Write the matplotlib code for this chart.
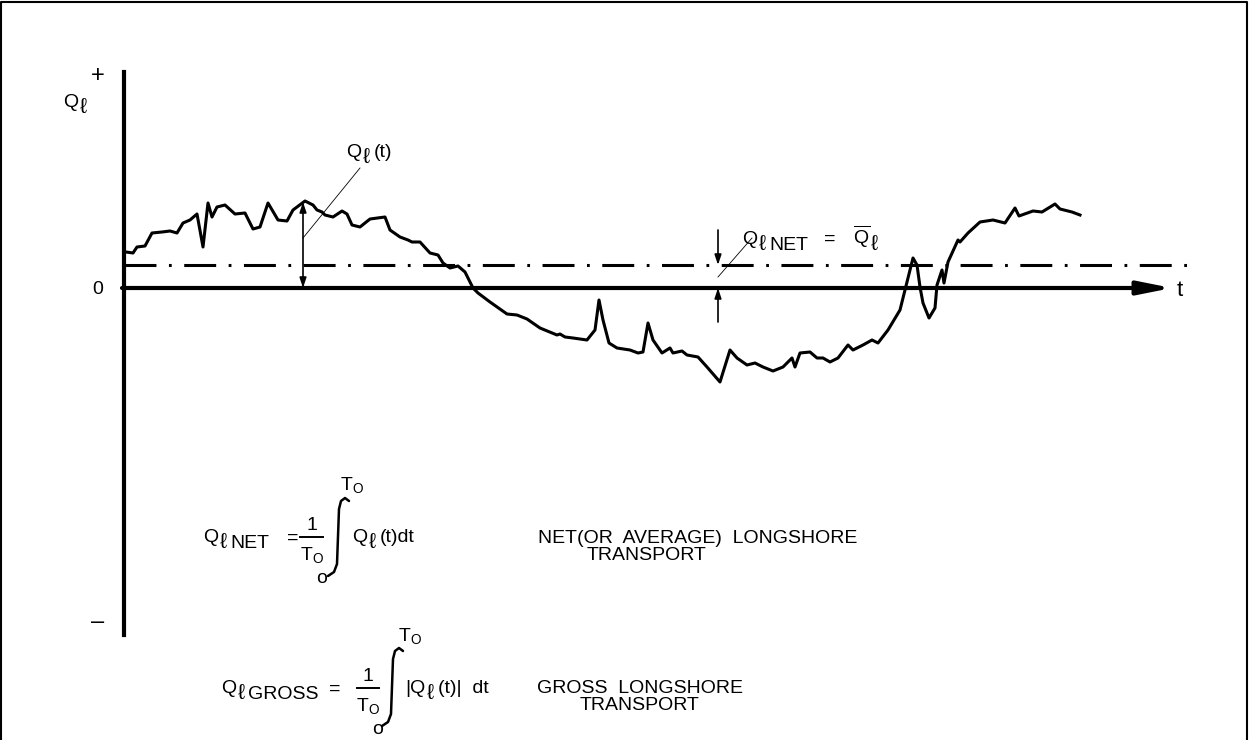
import matplotlib
matplotlib.use("Agg")
import matplotlib.pyplot as plt

# longshore transport record Q_l(t) (t in drawing units, Q up from the zero line)
t_vals = [126, 133, 137, 145, 152, 162, 170, 177, 183, 190, 197, 203, 208, 212, 217, 225, 235, 245,
          253, 260, 268, 278, 287, 293, 305, 313, 317, 322, 325, 333, 342, 347, 352, 360, 370, 385,
          390, 400, 408, 412, 420, 430, 438, 443, 450, 458, 465, 473, 478, 490, 507, 517, 527, 540,
          557, 560, 565, 573, 587, 595, 599, 603, 609, 617, 630, 638, 643, 648, 653, 662, 670, 673,
          682, 687, 698, 707, 720, 730, 737, 747, 755, 763, 773, 783, 792, 795, 800, 810, 817, 823,
          830, 838, 848, 853, 863, 872, 878, 888, 900, 905, 913, 917, 920, 923, 929, 935, 937, 942,
          944, 948, 958, 960, 968, 980, 993, 1005, 1015, 1019, 1033, 1042, 1055, 1060, 1072, 1080]
q_vals = [36, 35, 41, 42, 55, 56, 57, 55, 65, 68, 74, 41, 85, 71, 81, 83, 74, 75,
          59, 61, 85, 68, 67, 78, 87, 83, 78, 76, 73, 71, 77, 74, 63, 61, 69, 71,
          58, 51, 48, 46, 46, 35, 33, 25, 20, 22, 16, 0, -5, -14, -26, -27, -31, -40,
          -47, -46, -49, -50, -52, -42, -12, -32, -55, -60, -62, -65, -64, -35, -52, -65, -60, -65,
          -63, -67, -69, -79, -94, -62, -70, -77, -75, -79, -83, -79, -70, -79, -65, -64, -70, -70,
          -74, -70, -57, -62, -57, -52, -55, -42, -22, -2, 30, 23, 1, -15, -30, -20, 3, 18,
          5, 26, 48, 46, 55, 66, 68, 65, 80, 72, 77, 76, 84, 79, 76, 73]

q_net = 23          # level of the dash-dot mean line
t_end = 1172        # tip of the t axis arrow
q_top, q_bot = 216, -347

# thin drafted integral sign (relative shape, drawing units)
int_dx = [11, 7, 3, 1, -1, -4, -10]
int_dy = [37, 40, 37, 29, -26, -34, -38]

W, H = 1249, 740
fig = plt.figure(figsize=(W / 100, H / 100), dpi=100)
ax = fig.add_axes([0, 0, 1, 1])
ax.set_xlim(0, W)
ax.set_ylim(288 - H, 288)
ax.axis("off")

plt.rcParams["lines.scale_dashes"] = False
fam = ["Liberation Sans", "DejaVu Sans"]
plt.rcParams["mathtext.fontset"] = "custom"
plt.rcParams["mathtext.rm"] = "Liberation Sans"
fs = 14


def txt(x, y, s, **kw):
    kw.setdefault("ha", "left")
    kw.setdefault("va", "baseline")
    ax.text(x, y, s, fontsize=kw.pop("size", fs), family=fam, **kw)


def integral(x0, y0):
    ax.plot([x0 + d for d in int_dx], [y0 + d for d in int_dy], color="k", lw=1.8,
            solid_capstyle="round", solid_joinstyle="round")


# frame
ax.plot([1.5, 1.5, W - 1.5, W - 1.5], [288 - H, 286.5, 286.5, 288 - H], color="k", lw=1.5,
        solid_capstyle="butt")

# axes
ax.plot([124, 124], [q_bot, q_top], color="k", lw=3)
ax.annotate("", xy=(t_end, 0), xytext=(122, 0),
            arrowprops=dict(arrowstyle="-|>,head_length=1.0,head_width=0.2", lw=3, color="k",
                            mutation_scale=20, shrinkA=0, shrinkB=0))

# mean line
ax.plot([124, 1188], [q_net, q_net], color="k", lw=2.2, dashes=[23, 9, 2, 9])

# record
ax.plot(t_vals, q_vals, color="k", lw=2.2, solid_joinstyle="round")

# dimension for Q_l(t)
ax.annotate("", xy=(303, 0), xytext=(303, 86),
            arrowprops=dict(arrowstyle="<|-|>,head_length=0.6,head_width=0.2", lw=1.2, color="k",
                            mutation_scale=10, shrinkA=0, shrinkB=0))
ax.plot([303, 360], [50, 120], color="k", lw=0.6)

# dimension for Q_lNET
ax.annotate("", xy=(718, q_net), xytext=(718, 58),
            arrowprops=dict(arrowstyle="-|>,head_length=0.6,head_width=0.2", lw=1.2, color="k",
                            mutation_scale=10, shrinkA=0, shrinkB=0))
ax.annotate("", xy=(718, 0), xytext=(718, -34),
            arrowprops=dict(arrowstyle="-|>,head_length=0.6,head_width=0.2", lw=1.2, color="k",
                            mutation_scale=10, shrinkA=0, shrinkB=0))
ax.plot([718, 752], [11, 50], color="k", lw=0.6)

# axis labels
txt(98, 212, "+", size=fs + 3, ha="center", va="center")
txt(98, -334, "–", size=fs + 3, ha="center", va="center")
txt(98, -2, "0", ha="center", va="center")
txt(1180, -2, "t", size=fs + 2, ha="center", va="center")
txt(63, 181, "Q")
txt(80, 175, "ℓ", size=fs + 2)

txt(346, 131, "Q")
txt(363, 125, "ℓ", size=fs + 2)
txt(374, 131, "(t)")

txt(742, 44, "Q")
txt(759, 38, "ℓ", size=fs + 2)
txt(769, 38, "NET")
txt(824, 44, "=")
ax.text(853, 44, r"$\overline{\mathrm{Q}}$", fontsize=fs, ha="left", va="baseline")
txt(871, 38, "ℓ", size=fs + 2)

# net transport formula
txt(203, -254, "Q")
txt(220, -260, "ℓ", size=fs + 2)
txt(230, -260, "NET")
txt(287, -255, "=")
txt(312, -242, "1", ha="center")
ax.plot([300, 323], [-249, -249], color="k", lw=1.4)
ax.text(312, -273, r"T$_\mathrm{O}$", fontsize=fs, family=fam, ha="center", va="baseline")
integral(338, -250)
ax.text(352, -203, r"T$_\mathrm{O}$", fontsize=fs, family=fam, ha="center", va="baseline")
txt(322, -295, "o", ha="center")
txt(352, -254, "Q")
txt(369, -260, "ℓ", size=fs + 2)
txt(380, -254, "(t)dt")
txt(698, -255, "NET(OR  AVERAGE)  LONGSHORE", ha="center")
txt(647, -272, "TRANSPORT", ha="center")

# gross transport formula
txt(221, -405, "Q")
txt(238, -411, "ℓ", size=fs + 2)
txt(248, -411, "GROSS")
txt(329, -406, "=")
txt(368, -393, "1", ha="center")
ax.plot([357, 379], [-400, -400], color="k", lw=1.4)
ax.text(368, -424, r"T$_\mathrm{O}$", fontsize=fs, family=fam, ha="center", va="baseline")
integral(392, -400)
ax.text(410, -354, r"T$_\mathrm{O}$", fontsize=fs, family=fam, ha="center", va="baseline")
txt(378, -446, "o", ha="center")
txt(405, -405, "|Q")
txt(427, -411, "ℓ", size=fs + 2)
txt(438, -405, "(t)|  dt")
txt(640, -405, "GROSS  LONGSHORE", ha="center")
txt(640, -422, "TRANSPORT", ha="center")

fig.savefig("out.png", dpi=100)
